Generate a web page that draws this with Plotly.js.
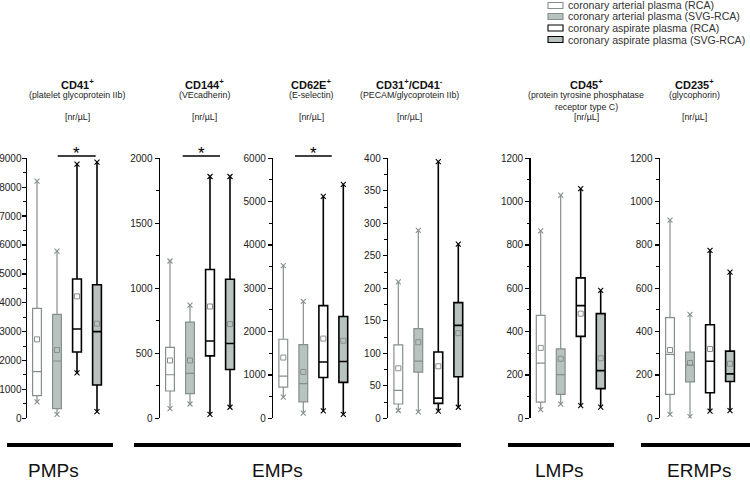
<!DOCTYPE html>
<html><head><meta charset="utf-8">
<script src="https://cdn.plot.ly/plotly-3.0.1.min.js"></script>
<style>html,body{margin:0;padding:0;background:#fff}#chart{width:750px;height:482px}</style>
</head><body><div id="chart"></div>
<script>
// ---- data ----
const seriesNames = ["coronary arterial plasma (RCA)", "coronary arterial plasma (SVG-RCA)", "coronary aspirate plasma (RCA)", "coronary aspirate plasma (SVG-RCA)"];
const markerNames = ["CD41<sup>+</sup>", "CD144<sup>+</sup>", "CD62E<sup>+</sup>", "CD31<sup>+</sup>/CD41<sup>-</sup>", "CD45<sup>+</sup>", "CD235<sup>+</sup>"];
const markerDesc = [["(platelet glycoprotein IIb)"], ["(VEcadherin)"], ["(E-selectin)"], ["(PECAM/glycoprotein IIb)"], ["(protein tyrosine phosphatase", "receptor type C)"], ["(glycophorin)"]];
const unitLabel = "[nr/µL]";
const groupNames = ["PMPs", "EMPs", "LMPs", "ERMPs"];
const yMax = [9000, 2000, 6000, 400, 1200, 1200];
const yTickStep = [1000, 500, 1000, 50, 200, 200];
const yMinorStep = [500, 250, 500, 25, 100, 100];
// per panel, per series
const lowerWhisker = [[565, 138, 1569, 230], [75, 110, 30, 85], [490, 120, 170, 90], [12, 10, 11, 17], [40, 65, 58, 52], [18, 8, 33, 35]];
const q1 = [[784, 334, 2295, 1153], [210, 190, 480, 375], [720, 380, 940, 830], [22, 71, 23, 64], [75, 110, 378, 137], [110, 168, 118, 170]];
const median = [[1615, 1984, 3091, 3000], [335, 345, 595, 575], [973, 800, 1300, 1310], [43, 88, 31, 143], [255, 202, 520, 220], [295, 245, 263, 205]];
const q3 = [[3806, 3600, 4821, 4625], [545, 740, 1145, 1070], [1824, 1700, 2600, 2350], [113, 138, 102, 178], [475, 320, 648, 483], [465, 305, 432, 310]];
const upperWhisker = [[8210, 5790, 8800, 8870], [1210, 870, 1860, 1860], [3525, 2700, 5120, 5400], [210, 289, 395, 268], [865, 1030, 1060, 590], [915, 480, 775, 675]];
const mean = [[2733, 2365, 4221, 3276], [445, 445, 860, 725], [1402, 1070, 1840, 1790], [77, 117, 80, 131], [325, 275, 483, 277], [315, 255, 320, 252]];
const significantPanels = [0, 1, 2];

// ---- styling ----
const W = 750, H = 482;
const FONT = "Liberation Sans, Arial, sans-serif";
const GREY_LINE = "#84908d", GREY_FILL = "#b8c2bf";
const lineColors = [GREY_LINE, GREY_LINE, "#000000", "#000000"];
const fillColors = ["#ffffff", GREY_FILL, "#ffffff", GREY_FILL];
const lineWidths = [1.2, 1.2, 1.6, 1.6];
const panelLeft = [27, 160, 273.3, 388.3, 530.7, 660];
const headerCenters = [77, 204, 311, 409, 586, 694];
const panelWidth = 82;
const plotTop = 158.3, plotBottom = 418.3;
const px = x => x / W, py = y => 1 - y / H;

const traces = [];
const layout = {
  width: W, height: H, margin: {l: 0, r: 0, t: 0, b: 0},
  paper_bgcolor: "#fff", plot_bgcolor: "rgba(0,0,0,0)",
  showlegend: false, boxmode: "overlay",
  font: {family: FONT, color: "#222"},
  shapes: [], annotations: []
};

markerNames.forEach((name, p) => {
  const xa = "x" + (p === 0 ? "" : p + 1), ya = "y" + (p === 0 ? "" : p + 1);
  const xk = "xaxis" + (p === 0 ? "" : p + 1), yk = "yaxis" + (p === 0 ? "" : p + 1);
  layout[xk] = {domain: [px(panelLeft[p]), px(panelLeft[p] + panelWidth)], range: [-0.5, 3.6], visible: false, anchor: ya, fixedrange: true};
  layout[yk] = {
    domain: [py(plotBottom), py(plotTop)], range: [0, yMax[p]], anchor: xa,
    showline: true, linecolor: "#000", linewidth: 1.5, showgrid: false, zeroline: false,
    ticks: "outside", ticklen: 4, tickwidth: 1.3, tickcolor: "#000", dtick: yTickStep[p], tick0: 0,
    ticklabelstandoff: p === 0 ? -2 : 0,
    tickfont: {size: 10, family: FONT, color: "#222"},
    minor: {dtick: yMinorStep[p], tick0: 0, ticks: "outside", ticklen: 2.5, tickwidth: 1, tickcolor: "#000", showgrid: false},
    fixedrange: true
  };
  for (let s = 0; s < 4; s++) {
    traces.push({
      type: "box", name: seriesNames[s], xaxis: xa, yaxis: ya,
      x: [s], q1: [q1[p][s]], median: [median[p][s]], q3: [q3[p][s]],
      lowerfence: [lowerWhisker[p][s]], upperfence: [upperWhisker[p][s]],
      width: 0.44, whiskerwidth: 0, boxpoints: false,
      line: {color: lineColors[s], width: lineWidths[s]}, fillcolor: fillColors[s],
      hoverinfo: "skip"
    });
  }
  const xs = [0, 1, 2, 3];
  const cols = lineColors.concat(lineColors);
  traces.push({
    type: "scatter", mode: "markers", xaxis: xa, yaxis: ya,
    x: xs.concat(xs), y: upperWhisker[p].concat(lowerWhisker[p]),
    marker: {symbol: "x-thin-open", size: 5, color: cols, line: {width: 1.1, color: cols}},
    hoverinfo: "skip"
  });
  traces.push({
    type: "scatter", mode: "markers", xaxis: xa, yaxis: ya,
    x: xs, y: mean[p],
    marker: {symbol: "square-open", size: 5, color: "#8a8f8d", line: {width: 1, color: "#8a8f8d"}},
    hoverinfo: "skip"
  });
  // headers
  const hc = headerCenters[p];
  layout.annotations.push({xref: "paper", yref: "paper", x: px(hc), y: py(83.5), text: "<b>" + name + "</b>", showarrow: false, xanchor: "center", yanchor: "middle", font: {size: 11, family: FONT, color: "#111"}});
  markerDesc[p].forEach((d, i) => {
    layout.annotations.push({xref: "paper", yref: "paper", x: px(hc), y: py(95.5 + 11 * i), text: d, showarrow: false, xanchor: "center", yanchor: "middle", font: {size: 8.8, family: FONT, color: "#222"}});
  });
  layout.annotations.push({xref: "paper", yref: "paper", x: px(hc), y: py(117), text: unitLabel, showarrow: false, xanchor: "center", yanchor: "middle", font: {size: 8.8, family: FONT, color: "#222"}});
});

// significance bars
const sigSpan = [[57.7, 95.7], [182.7, 220], [295, 331.7]];
significantPanels.forEach((p, i) => {
  const [a, b] = sigSpan[i];
  layout.shapes.push({type: "line", xref: "paper", yref: "paper", x0: px(a), x1: px(b), y0: py(156), y1: py(156), line: {color: "#000", width: 1.6}});
  layout.annotations.push({xref: "paper", yref: "paper", x: px((a + b) / 2), y: py(153), text: "*", showarrow: false, xanchor: "center", yanchor: "middle", font: {size: 17, family: FONT, color: "#000"}});
});

// legend
const legendRows = [5.5, 16.5, 28, 39.5];
seriesNames.forEach((n, s) => {
  layout.shapes.push({type: "rect", xref: "paper", yref: "paper", x0: px(548), x1: px(563), y0: py(legendRows[s] + 3), y1: py(legendRows[s] - 3), fillcolor: fillColors[s], line: {color: lineColors[s], width: 1.1}});
  layout.annotations.push({xref: "paper", yref: "paper", x: px(566), y: py(legendRows[s]), text: n, showarrow: false, xanchor: "left", yanchor: "middle", font: {size: 10.6, family: FONT, color: "#333"}});
});

// group bars
const groupSpan = [[7, 113], [134, 461], [508, 614], [641, 750]];
const groupLabelX = [54, 277, 559, 699];
groupNames.forEach((g, i) => {
  layout.shapes.push({type: "line", xref: "paper", yref: "paper", x0: px(groupSpan[i][0]), x1: px(groupSpan[i][1]), y0: py(445), y1: py(445), line: {color: "#000", width: 4}});
  layout.annotations.push({xref: "paper", yref: "paper", x: px(groupLabelX[i]), y: py(470), text: g, showarrow: false, xanchor: "center", yanchor: "middle", font: {size: 19, family: FONT, color: "#111"}});
});

Plotly.newPlot("chart", traces, layout, {staticPlot: true, displayModeBar: false});
</script></body></html>
